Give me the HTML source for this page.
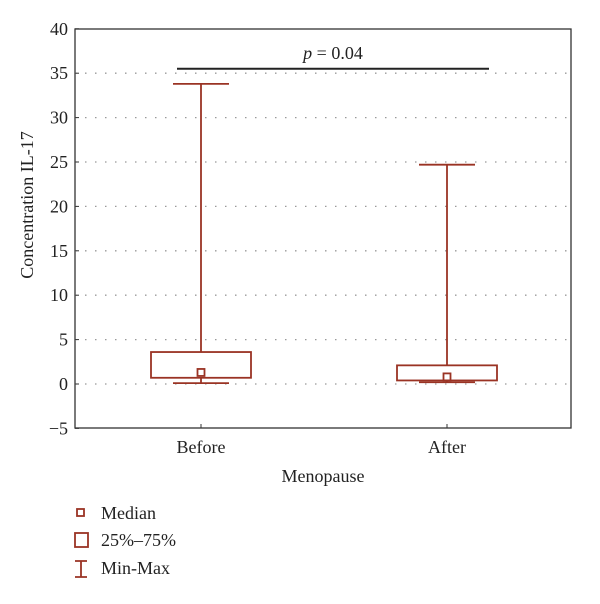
<!DOCTYPE html>
<html><head><meta charset="utf-8"><style>
body{margin:0;background:#fff}
svg text{font-family:"Liberation Serif",serif;fill:#222}
</style></head><body>
<svg width="600" height="599" id="chart">
<rect x="75" y="29" width="496" height="399" fill="none" stroke="#333" stroke-width="1.3"/>
<g id="grid"></g><g id="yticks"></g><g id="boxes"></g>
<text x="33" y="205" font-size="18" text-anchor="middle" transform="rotate(-90 33 205)">Concentration IL-17</text>
<text x="323" y="482" font-size="18" text-anchor="middle">Menopause</text>
<g>
<rect x="77" y="509" width="7" height="7" fill="none" stroke="#9a3324" stroke-width="1.8"/>
<text x="101" y="519" font-size="18">Median</text>
<rect x="75" y="533" width="13" height="14" fill="none" stroke="#9a3324" stroke-width="1.8"/>
<text x="101" y="546" font-size="18">25%–75%</text>
<path d="M75 561H87M81 561V577M75 577H87" fill="none" stroke="#9a3324" stroke-width="1.8"/>
<text x="101" y="574" font-size="18">Min-Max</text>
</g>
</svg>
<script>
const categories=["Before","After"];
const minVals=[0.1,0.2];
const q1Vals=[0.7,0.4];
const medianVals=[1.3,0.8];
const q3Vals=[3.6,2.1];
const maxVals=[33.8,24.7];
const yTicks=[-5,0,5,10,15,20,25,30,35,40];
const pValue=35.5;
const pLabel="= 0.04";
const NS="http://www.w3.org/2000/svg";
const y=v=>384-(v)*(44.4/5);
const x=i=>201+i*246;
const C="#9a3324";
function mk(t,a,p){const e=document.createElementNS(NS,t);for(const k in a)e.setAttribute(k,a[k]);p.appendChild(e);return e;}
const grid=document.getElementById('grid'),yt=document.getElementById('yticks'),bx=document.getElementById('boxes');
yTicks.forEach(v=>{
 if(v>-5&&v<40){const l=mk('line',{x1:75,x2:571,y1:y(v),y2:y(v),stroke:'#999','stroke-width':1.3,'stroke-dasharray':'1.5 8.5'},grid);
 
 }
 const tk=mk('line',{x1:75,x2:79,y1:y(v),y2:y(v),stroke:'#333'},yt);
 
 
 const t=mk('text',{x:68,y:y(v)+6,'font-size':18,'text-anchor':'end'},yt);t.textContent=v<0?'−'+(-v):v;
 
 
});
categories.forEach((c,i)=>{
 const cx=x(i);
 const g=mk('g',{},bx);
 
 
 mk('line',{x1:cx,x2:cx,y1:y(maxVals[i]),y2:y(q3Vals[i]),stroke:C,'stroke-width':1.8},g);
 mk('line',{x1:cx,x2:cx,y1:y(q1Vals[i]),y2:y(minVals[i]),stroke:C,'stroke-width':1.8},g);
 mk('line',{x1:cx-28,x2:cx+28,y1:y(maxVals[i]),y2:y(maxVals[i]),stroke:C,'stroke-width':1.8},g);
 mk('line',{x1:cx-28,x2:cx+28,y1:y(minVals[i]),y2:y(minVals[i]),stroke:C,'stroke-width':1.8},g);
 mk('rect',{x:cx-50,y:y(q3Vals[i]),width:100,height:y(q1Vals[i])-y(q3Vals[i]),fill:'none',stroke:C,'stroke-width':1.8},g);
 mk('rect',{x:cx-3.5,y:y(medianVals[i])-3.5,width:7,height:7,fill:'#fff',stroke:C,'stroke-width':1.8},g);
 const tk=mk('line',{x1:cx,x2:cx,y1:424,y2:428,stroke:'#333'},yt);
 
 
 const t=mk('text',{x:cx,y:453,'font-size':18,'text-anchor':'middle'},yt);t.textContent=c;
 
 
});
const pl=mk('line',{x1:177,x2:489,y1:y(pValue),y2:y(pValue),stroke:'#222','stroke-width':2},bx);


const pt=mk('text',{x:333,y:y(pValue)-10,'font-size':18,'text-anchor':'middle'},bx);
pt.innerHTML='<tspan font-style="italic">p</tspan> '+pLabel;


</script>
</body></html>
